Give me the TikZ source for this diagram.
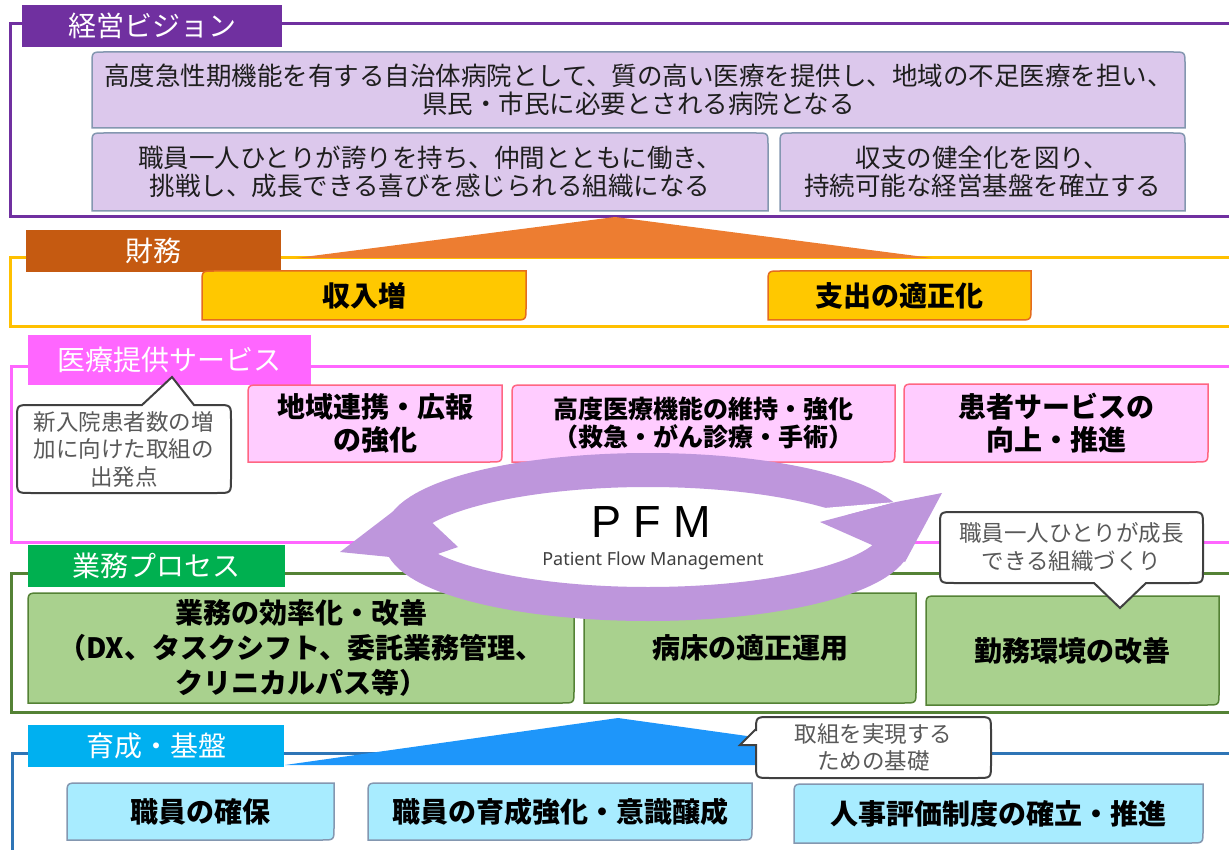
\documentclass[tikz,border=0pt]{standalone}
\usepackage{fontspec}
\setmainfont{Noto Sans CJK JP}
\newfontfamily\pfmfont{Liberation Sans}
\newfontfamily\subfont{Noto Sans}
\definecolor{vis}{RGB}{112,48,160}
\definecolor{visfill}{RGB}{220,200,236}
\definecolor{boxline}{RGB}{132,151,176}
\definecolor{finlab}{RGB}{197,90,17}
\definecolor{fintri}{RGB}{237,125,49}
\definecolor{finframe}{RGB}{255,192,0}
\definecolor{finfill}{RGB}{255,200,0}
\definecolor{finline}{RGB}{228,108,30}
\definecolor{med}{RGB}{255,102,255}
\definecolor{medfill}{RGB}{255,204,255}
\definecolor{medline}{RGB}{255,102,130}
\definecolor{proframe}{RGB}{84,130,53}
\definecolor{prolab}{RGB}{0,176,80}
\definecolor{profill}{RGB}{169,209,142}
\definecolor{baseframe}{RGB}{46,117,182}
\definecolor{baselab}{RGB}{0,176,240}
\definecolor{basetri}{RGB}{30,150,250}
\definecolor{basefill}{RGB}{168,236,255}
\definecolor{pfmc}{RGB}{190,150,220}
\definecolor{calltext}{RGB}{89,89,89}
\definecolor{calline}{RGB}{64,64,64}
\definecolor{darktext}{RGB}{30,30,30}
\definecolor{subtext}{RGB}{64,64,64}

\tikzset{
  frame/.style={line width=3pt, draw=#1},
  lbl/.style={fill=#1, text=white, inner sep=0pt, font=\fontsize{28}{30}\selectfont},
  vbox/.style={fill=visfill, draw=boxline, line width=1.5pt},
  fbox/.style={fill=finfill, draw=finline, line width=1.5pt},
  mbox/.style={fill=medfill, draw=medline, line width=1.5pt},
  pbox/.style={fill=profill, draw=proframe, line width=1.5pt},
  bbox/.style={fill=basefill, draw=boxline, line width=1.5pt},
  vtxt/.style={align=center, inner sep=0pt, text=darktext, font=\fontsize{25.5}{28}\selectfont},
  btxt/.style={align=center, inner sep=0pt, text=black, font=\bfseries\fontsize{28}{33}\selectfont},
  stxt/.style={align=center, inner sep=0pt, text=black, font=\bfseries\fontsize{25}{28}\selectfont},
  ptxt/.style={align=center, inner sep=0pt, text=black, font=\bfseries\fontsize{28}{35}\selectfont},
  callout/.style={fill=white, draw=calline, line width=2pt},
  ctxt/.style={align=center, inner sep=0pt, text=calltext, font=\fontsize{22.5}{27.5}\selectfont},
}

% diagonal box: top-left and bottom-right corners rounded
\newcommand\mkdbox[8]{%
  \draw[#6] ({#2},{#3+12}) .. controls ({#2},{#3}) .. ({#2+12},{#3}) -- ({#4},{#3}) -- ({#4},{#5-12}) .. controls ({#4},{#5}) .. ({#4-12},{#5}) -- ({#2},{#5}) -- cycle;
  \node[#7] (#1) at ({(#2+#4)/2},{(#3+#5)/2}) {#8};
}
% top-rounded box
\newcommand\mktbox[8]{%
  \draw[#6] ({#2},{#5}) -- ({#2},{#3+12}) .. controls ({#2},{#3}) .. ({#2+12},{#3}) -- ({#4-12},{#3}) .. controls ({#4},{#3}) .. ({#4},{#3+12}) -- ({#4},{#5}) -- cycle;
  \node[#7] (#1) at ({(#2+#4)/2},{(#3+#5)/2}) {#8};
}

\begin{document}
\begin{tikzpicture}[x=1pt,y=-1pt]
\useasboundingbox (0,0) rectangle (1229,850);
\clip (0,0) rectangle (1229,850);

% ---------- section frames ----------
\draw[frame=vis] (10,24) rectangle (1245,217);
\draw[frame=finframe] (10,258) rectangle (1245,327);
\draw[frame=med] (11,366) rectangle (1245,542);
\draw[frame=proframe] (11,573) rectangle (1245,712);
\draw[frame=baseframe] (12,753) rectangle (1245,880);

% ---------- triangles ----------
\fill[fintri] (296,258) -- (615,217) -- (932,258) -- cycle;
\fill[basetri] (285,765) -- (618,718) -- (955,765) -- cycle;

% ---------- section labels ----------
\node[lbl=vis, minimum width=260pt, minimum height=42pt] (lvis) at (152,26) {経営ビジョン};
\node[lbl=finlab, minimum width=255pt, minimum height=42pt] (lfin) at (153.5,251) {財務};
\node[lbl=med, minimum width=283pt, minimum height=50pt] (lmed) at (169.5,360) {医療提供サービス};
\node[lbl=prolab, minimum width=257pt, minimum height=42pt] (lpro) at (156.5,566) {業務プロセス};
\node[lbl=baselab, minimum width=256pt, minimum height=42pt] (lbase) at (156,746) {育成・基盤};

% ---------- vision boxes ----------
\mktbox{va}{92}{52}{1185}{128}{vbox}{vtxt}{高度急性期機能を有する自治体病院として、質の高い医療を提供し、地域の不足医療を担い、\\県民・市民に必要とされる病院となる}
\mktbox{vb}{92}{133}{768}{211}{vbox}{vtxt}{職員一人ひとりが誇りを持ち、仲間とともに働き、\\挑戦し、成長できる喜びを感じられる組織になる}
\mktbox{vc}{780}{133}{1185}{211}{vbox}{vtxt}{収支の健全化を図り、\\持続可能な経営基盤を確立する}

% ---------- finance boxes ----------
\mkdbox{fa}{202}{271}{526}{320}{fbox}{btxt}{収入増}
\mkdbox{fb}{768}{271}{1031}{320}{fbox}{btxt}{支出の適正化}

% ---------- medical boxes ----------
\mkdbox{ma}{248}{385}{502}{462}{mbox}{btxt}{地域連携・広報\\の強化}
\mkdbox{mb}{512}{385}{895}{462}{mbox}{stxt}{高度医療機能の維持・強化\\（救急・がん診療・手術）}
\mkdbox{mc}{904}{384}{1208}{462}{mbox}{btxt}{患者サービスの\\向上・推進}

% ---------- process boxes ----------
\mkdbox{pa}{28}{593}{574}{703}{pbox}{ptxt}{業務の効率化・改善\\（DX、タスクシフト、委託業務管理、\\クリニカルパス等）}
\mkdbox{pb}{584}{593}{916}{703}{pbox}{btxt}{病床の適正運用}
\mkdbox{pc}{926}{596}{1219}{705}{pbox}{btxt}{勤務環境の改善}

% ---------- base boxes ----------
\mkdbox{ba}{67}{783}{334}{840}{bbox}{btxt}{職員の確保}
\mkdbox{bb}{368}{783}{752}{840}{bbox}{btxt}{職員の育成強化・意識醸成}
\mkdbox{bc}{794}{784}{1203}{843}{bbox}{btxt}{人事評価制度の確立・推進}

% ---------- PFM cycle ----------
\fill[white] (648,537) ellipse [x radius=248, y radius=67];
\draw[pfmc, line width=34pt] (648,537) ellipse [x radius=248, y radius=67];
\fill[white] (800,510) -- (896,502) -- (820,522) -- cycle;
\fill[pfmc] (820,522) -- (896,502) -- (942,493) -- (905,562) -- (872,545) -- cycle;
\fill[white] (470,522) -- (424,524) -- (458,547) -- cycle;
\fill[pfmc] (340,552) -- (408,500) -- (458,547) -- (420,560) -- cycle;
\node[font=\pfmfont\fontsize{45}{45}\selectfont, text=black, inner sep=0pt] (pfm) at (651,522) {P F M};
\node[font=\subfont\fontsize{18}{20}\selectfont, text=subtext, inner sep=0pt] (pfmsub) at (653,561) {Patient Flow Management};

% ---------- callouts ----------
\draw[callout] (31,405) -- (142,405) -- (172,377) -- (194,405) -- (217,405) .. controls (231,405) .. (231,419) -- (231,479) .. controls (231,493) .. (217,493) -- (31,493) .. controls (17,493) .. (17,479) -- (17,419) .. controls (17,405) .. (31,405) -- cycle;
\node[ctxt] (c1) at (124,449) {新入院患者数の増\\加に向けた取組の\\出発点};

\draw[callout] (954,512) -- (1189,512) .. controls (1203,512) .. (1203,526) -- (1203,569) .. controls (1203,583) .. (1189,583) -- (1146,583) -- (1120,608) -- (1094,583) -- (954,583) .. controls (940,583) .. (940,569) -- (940,526) .. controls (940,512) .. (954,512) -- cycle;
\node[ctxt] (c2) at (1071.5,547) {職員一人ひとりが成長\\できる組織づくり};

\draw[callout] (770,717) -- (977,717) .. controls (991,717) .. (991,731) -- (991,764) .. controls (991,778) .. (977,778) -- (770,778) .. controls (756,778) .. (756,764) -- (756,745) -- (740,745) -- (756,729) -- (756,731) .. controls (756,717) .. (770,717) -- cycle;
\node[ctxt] (c3) at (873.5,747.5) {取組を実現する\\ための基礎};
\end{tikzpicture}
\end{document}
